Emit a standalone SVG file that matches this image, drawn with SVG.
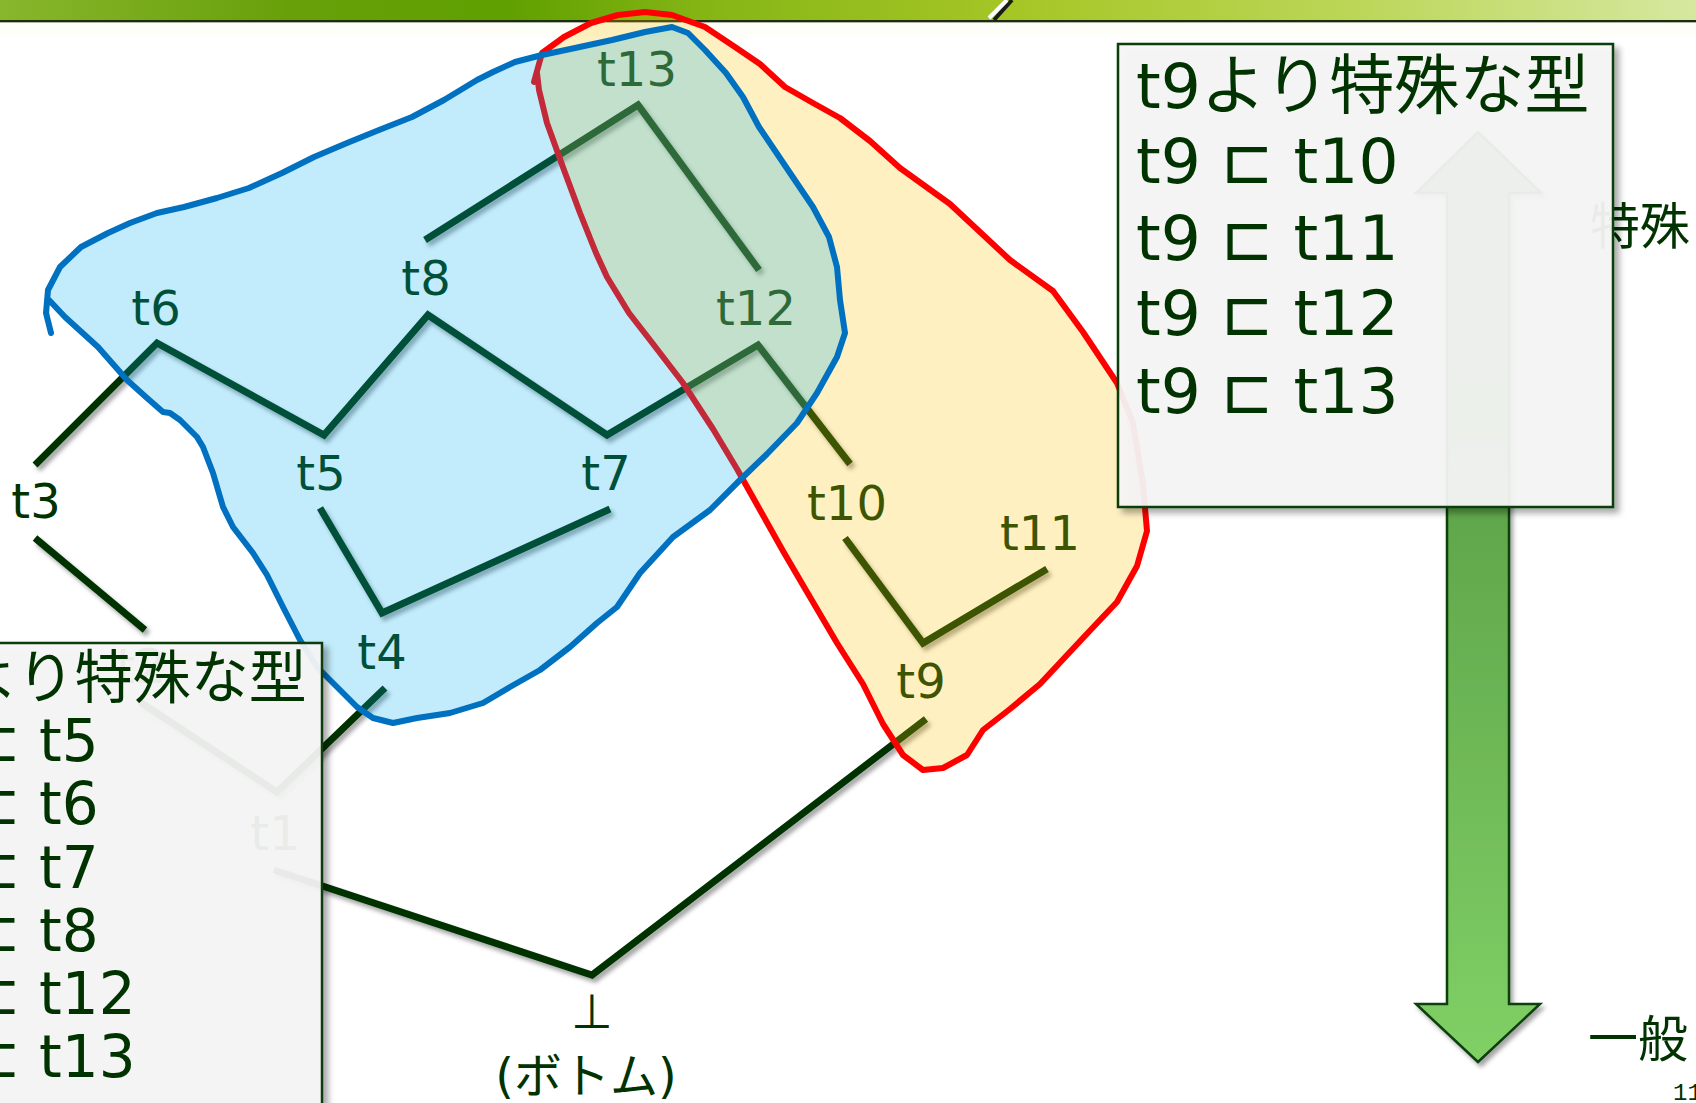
<svg xmlns="http://www.w3.org/2000/svg" width="1696" height="1103" viewBox="0 0 1696 1103">
<defs>
<linearGradient id="bar" x1="0" y1="0" x2="1696" y2="0" gradientUnits="userSpaceOnUse">
<stop offset="0" stop-color="#88b62c"/>
<stop offset="0.17" stop-color="#68a00a"/>
<stop offset="0.3" stop-color="#60a000"/>
<stop offset="0.42" stop-color="#86b616"/>
<stop offset="0.6" stop-color="#a6c626"/>
<stop offset="0.8" stop-color="#bcd658"/>
<stop offset="1" stop-color="#d6e8a0"/>
</linearGradient>
<linearGradient id="arrowGrad" x1="0" y1="132" x2="0" y2="1062" gradientUnits="userSpaceOnUse">
<stop offset="0" stop-color="#4a8a38"/>
<stop offset="1" stop-color="#80d066"/>
</linearGradient>
<filter id="shadow" x="-10%" y="-10%" width="130%" height="130%">
<feDropShadow dx="3" dy="4" stdDeviation="2" flood-color="#000" flood-opacity="0.35"/>
</filter>
<filter id="boxShadow" x="-10%" y="-10%" width="130%" height="130%">
<feDropShadow dx="5" dy="5" stdDeviation="3" flood-color="#000" flood-opacity="0.35"/>
</filter>
<style>
.edge{fill:none;stroke:#003300;stroke-width:7;stroke-linejoin:miter;stroke-linecap:butt}
.lbl{font-family:"DejaVu Sans","Noto Sans CJK JP",sans-serif;font-size:48px;fill:#003300;text-anchor:middle}
.boxtxt{font-family:"DejaVu Sans","Noto Sans CJK JP",sans-serif;fill:#003300}
.cjk{font-family:"Noto Sans CJK JP",sans-serif;fill:#003300}
.box{fill:#f6f6f6;fill-opacity:0.93;stroke:#0d3d0d;stroke-width:2.5}
</style>
</defs>
<rect width="1696" height="1103" fill="#ffffff"/>
<g id="topbar">
<rect x="0" y="0" width="1696" height="21" fill="url(#bar)"/>
<rect x="0" y="20" width="1696" height="2.5" fill="#1e2c0e"/>
<rect x="0" y="22.5" width="1696" height="14" fill="#fbfdf2" opacity="0.6"/>
<line x1="1012" y1="0" x2="994" y2="20" stroke="#1a1a1a" stroke-width="4"/>
<line x1="1007" y1="0" x2="989" y2="18" stroke="#ffffff" stroke-width="4"/>
</g>
<g id="connectors" filter="url(#shadow)">
<polyline class="edge" points="35,465 157,343 324,435 428,315 607,435 758,345 850,464"/>
<polyline class="edge" points="425,240 638,105 759,270"/>
<polyline class="edge" points="320,508 382,613 610,509"/>
<polyline class="edge" points="845,538 923,643 1047,569"/>
<polyline class="edge" points="35,538 145,630"/>
<polyline class="edge" points="140,702 277,792 385,688"/>
<polyline class="edge" points="274,870 592,975 926,719"/>
</g>
<g id="node-t13"><text class="lbl" x="637" y="86">t13</text></g>
<g id="node-t8"><text class="lbl" x="426" y="295">t8</text></g>
<g id="node-t6"><text class="lbl" x="156" y="325">t6</text></g>
<g id="node-t12"><text class="lbl" x="756" y="325">t12</text></g>
<g id="node-t5"><text class="lbl" x="321" y="490">t5</text></g>
<g id="node-t7"><text class="lbl" x="606" y="490">t7</text></g>
<g id="node-t3"><text class="lbl" x="36" y="518">t3</text></g>
<g id="node-t10"><text class="lbl" x="847" y="520">t10</text></g>
<g id="node-t11"><text class="lbl" x="1040" y="550">t11</text></g>
<g id="node-t4"><text class="lbl" x="382" y="669">t4</text></g>
<g id="node-t9"><text class="lbl" x="921" y="698">t9</text></g>
<g id="node-t2"><text class="lbl" x="141" y="683">t2</text></g>
<g id="node-t1"><text class="lbl" x="275" y="850">t1</text></g>
<g id="node-bottom">
<text class="lbl" x="592" y="1028">⊥</text>
<text class="lbl" x="586" y="1093">(ボトム)</text>
</g>
<g id="label-special"><text class="cjk" x="1590" y="244" font-size="50">特殊</text></g>
<g id="arrow" filter="url(#shadow)">
<path d="M1478,132 L1541,193 L1509,193 L1509,1004 L1540,1004 L1478,1062 L1416,1004 L1447,1004 L1447,193 L1416,193 Z" fill="url(#arrowGrad)" stroke="#0a3f0a" stroke-width="2.5" stroke-linejoin="miter"/>
</g>
<g id="set-t9">
<path d="M534,82 L542,53 L564,37 L591,23 L618,15 L645,12 L672,15 L705,27 L735,47 L760,64 L785,87 L813,103 L840,118 L870,141 L900,168 L950,204 L1010,260 L1053,291 L1083,332 L1117,383 L1133,423 L1143,485 L1147,531 L1137,566 L1117,602 L1083,638 L1040,684 L1010,709 L983,730 L967,755 L943,768 L923,770 L903,755 L883,724 L863,684 L837,643 L807,592 L783,551 L760,510 L737,469 L713,429 L683,383 L650,340 L629,313 L607,277 L596,253 L580,213 L564,170 L547,123 L539,90 L537,73" fill="#ffc000" fill-opacity="0.24" stroke="#ff0000" stroke-width="6" stroke-linejoin="round" stroke-linecap="round"/>
</g>
<g id="set-t4">
<path d="M51,333 L46,313 L48,290 L60,267 L81,247 L108,233 L130,223 L157,213 L184,207 L217,198 L249,188 L282,173 L314,157 L347,143 L379,130 L412,117 L444,100 L477,80 L493,72 L515,62 L542,55 L575,48 L612,40 L645,32 L672,27 L688,33 L705,50 L726,73 L743,97 L759,127 L786,167 L813,207 L829,237 L837,267 L840,300 L845,333 L837,357 L817,393 L797,423 L767,454 L740,480 L710,510 L673,537 L640,573 L617,607 L597,623 L570,647 L540,670 L510,687 L483,703 L450,713 L417,718 L393,723 L373,718 L357,707 L337,687 L317,667 L300,640 L283,607 L267,575 L253,553 L233,527 L223,507 L213,473 L203,447 L197,437 L180,420 L170,413 L163,412 L147,398 L127,380 L98,347 L65,317 L49,300" fill="#00b0f0" fill-opacity="0.24" stroke="#0070c0" stroke-width="6" stroke-linejoin="round" stroke-linecap="round"/>
</g>
<g id="box-t4" filter="url(#boxShadow)">
<rect class="box" x="-10" y="643" width="332" height="480"/>
</g>
<g id="box-t4-text" class="boxtxt" font-size="58">
<text x="-40" y="698">より特殊な型</text>
<text x="-28" y="761">⊏ t5</text>
<text x="-28" y="824">⊏ t6</text>
<text x="-28" y="888">⊏ t7</text>
<text x="-28" y="951">⊏ t8</text>
<text x="-28" y="1014">⊏ t12</text>
<text x="-28" y="1077">⊏ t13</text>
</g>
<g id="box-t9" filter="url(#boxShadow)">
<rect class="box" x="1118" y="44" width="495" height="463"/>
</g>
<g id="box-t9-text" class="boxtxt" font-size="63">
<text x="1136" y="108">t9<tspan font-size="65">より特殊な型</tspan></text>
<text x="1136" y="183">t9 ⊏ t10</text>
<text x="1136" y="260">t9 ⊏ t11</text>
<text x="1136" y="335">t9 ⊏ t12</text>
<text x="1136" y="413">t9 ⊏ t13</text>
</g>
<g id="label-general"><text class="cjk" x="1588" y="1057" font-size="50">一般</text></g>
<g id="page-number"><text x="1673" y="1100" font-family="Liberation Mono, monospace" font-size="24" fill="#003300">11</text></g>
</svg>
